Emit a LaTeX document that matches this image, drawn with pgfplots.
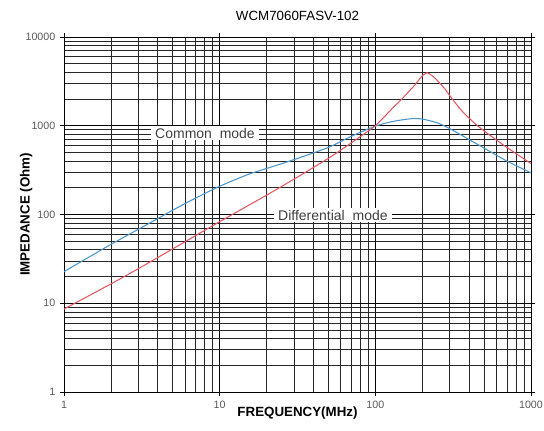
\documentclass[border=0pt]{standalone}
\usepackage{pgfplots}
\pgfplotsset{compat=1.18}
\usepackage{fontspec}
\setmainfont{Liberation Sans}
\definecolor{dmred}{RGB}{228,88,98}
\definecolor{cmblue}{RGB}{75,150,205}
\begin{document}
\begin{tikzpicture}[x=0.75pt,y=0.75pt]
\path[use as bounding box] (-64,-38) rectangle (480,392);
\begin{loglogaxis}[
  at={(0,0)}, anchor=south west,
  scale only axis,
  width=467*0.75pt, height=355*0.75pt,
  xmin=1, xmax=1000, ymin=1, ymax=10000,
  xtick={1,10,100,1000}, xticklabels={1,10,100,1000},
  ytick={1,10,100,1000,10000}, yticklabels={1,10,100,1000,10000},
  grid=both,
  major grid style={black, line width=0.6pt},
  minor grid style={black!85, line width=0.5pt},
  axis line style={black, line width=0.7pt},
  tick align=outside, major tick length=3pt, minor tick length=0pt,
  tick style={black, line width=0.5pt},
  tick label style={font=\fontsize{8}{9}\selectfont, text=black!65},
  /pgf/number format/assume math mode=true,
  xlabel={\bfseries FREQUENCY(MHz)},
  ylabel={\bfseries IMPEDANCE (Ohm)},
  xlabel style={font=\fontsize{10}{12}\selectfont, yshift=8pt},
  ylabel style={font=\fontsize{10}{12}\selectfont, yshift=-12pt},
  title={WCM7060FASV-102},
  title style={font=\fontsize{10}{12}\selectfont, yshift=3pt},
  clip=true,
]
\addplot[cmblue, line width=0.8pt, smooth, tension=0.4] coordinates {
(1,22.7) (2,46) (3,68) (4,90) (5,112) (6,133) (7,153) (8,172) (10,208)
(15,280) (20,330) (30,415) (50,570) (70,760) (100,990) (130,1120)
(170,1200) (200,1190) (250,1080) (300,930) (400,700) (500,560) (700,400) (1000,295)
};
\addplot[dmred, line width=0.8pt, smooth, tension=0.3] coordinates {
(1,8.6) (2,16.5) (3,24.5) (5,41) (10,83) (20,165) (30,250) (50,430) (70,640)
(100,1000) (130,1600) (150,2050) (180,2900) (200,3650) (215,3950) (230,3700)
(250,3250) (280,2600) (300,2200) (350,1550) (400,1220) (450,1010) (520,830) (700,570) (1000,375)
};
\node[fill=white, inner xsep=3pt, inner ysep=1.5pt, font=\fontsize{10.5}{12}\selectfont, text=black!75] at (axis cs:8.05,828) {Common\ \ mode};
\node[fill=white, inner xsep=3pt, inner ysep=1.5pt, font=\fontsize{10.5}{12}\selectfont, text=black!75] at (axis cs:53.4,98.7) {Differential\ \ mode};
\end{loglogaxis}
\end{tikzpicture}
\end{document}
